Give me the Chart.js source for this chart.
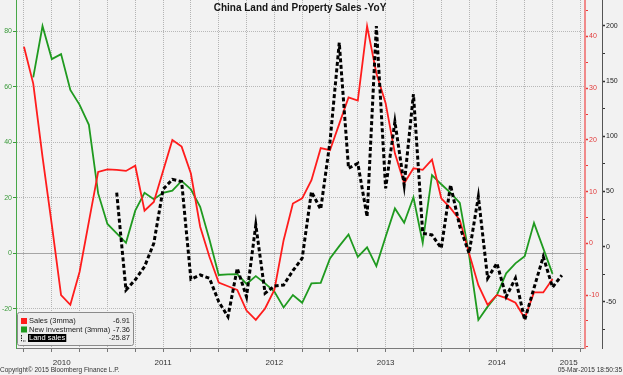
<!DOCTYPE html>
<html>
<head>
<meta charset="utf-8">
<script src="https://cdn.jsdelivr.net/npm/chart.js@4/dist/chart.umd.min.js"></script>
<style>
  html, body { margin: 0; padding: 0; background: #f2f2f2; }
  #wrap { position: relative; width: 623px; height: 375px; }
</style>
</head>
<body>
<div id="wrap"><canvas id="chart" width="623" height="375"></canvas></div>
<script>
/* China Land and Property Sales -YoY
   Months counted from Jan 2010 (= 0). Series start Apr 2010. */

const FIRST_MONTH = 3;

// Sales (3mma), % YoY, right red axis — Apr 2010 .. Jan 2015
const sales = [
  38.0, 30.9, 16.7, 3.6, -10.0, -11.9, -5.5, 4.2, 13.8,          // 2010 Apr-Dec
  14.3, 14.2, 14.0, 15.0, 6.3, 8.0, 14.0, 20.0, 18.7, 13.5, 3.2, -2.6,  // 2011
  -7.6, -8.3, -9.0, -13.0, -14.8, -12.6, -9.0, 0.6, 7.7, 8.7, 12.2, 18.4, // 2012
  18.0, 23.1, 28.2, 27.6, 42.0, 32.9, 27.1, 17.4, 11.6, 14.5, 14.2, 16.2, // 2013
  8.7, 6.8, 4.5, -1.9, -8.1, -11.9, -10.0, -10.6, -11.5, -14.5, -9.5, -9.5, // 2014
  -6.9, null                                                      // 2015
];

// New investment (3mma), % YoY, left green axis
const newInvestment = [
  null, 63.4, 81.9, 70.0, 71.8, 58.9, 53.5, 46.3, 21.6,
  10.6, 7.2, 3.8, 15.4, 21.8, 19.5, 21.8, 22.6, 26.1, 23.1, 16.8, 5.0,
  -7.8, -7.6, -7.5, -11.0, -8.2, -10.8, -13.8, -19.5, -15.0, -17.8, -10.8, -10.6,
  -1.8, 2.6, 6.8, -1.3, 2.2, -4.6, 6.0, 16.2, 11.0, 20.2, 3.8, 28.2,
  24.9, 21.8, 18.2, -0.6, -24.0, -19.2, -15.0, -7.2, -3.6, -1.0, 11.0, 1.8,
  -7.4, null
];

// Land sales, % YoY, right black axis
const landSales = [
  null, null, null, null, null, null, null, null, null,
  null, 48.9, -39.2, -30.0, -18.1, 3.0, 52.0, 61.0, 59.0, -29.5, -25.6, -28.6,
  -49.8, -63.4, -19.6, -45.3, 19.7, -42.2, -35.6, -34.7, -21.7, -10.5, 49.8, 33.9,
  95.1, 184.8, 71.0, 75.5, 27.2, 199.9, 52.9, 113.2, 55.9, 138.3, 12.1, 10.6,
  -1.4, 55.9, 18.1, -6.0, 45.3, -28.6, -15.0, -45.3, -28.6, -66.4, -37.4, -9.1,
  -36.8, -25.9
];

const investTicks = [-20, 0, 20, 40, 60, 80];
const salesTicks = [-10, 0, 10, 20, 30, 40];
const landTicks = [-50, 0, 50, 100, 150, 200];
const yearLabels = ['2010', '2011', '2012', '2013', '2014', '2015'];

const seriesNames = ['Sales (3mma)', 'New investment (3mma)', 'Land sales'];
const lastValues = ['-6.91', '-7.36', '-25.87'];

const TITLE = 'China Land and Property Sales -YoY';
const COPYRIGHT = 'Copyright\u00a9 2015 Bloomberg Finance L.P.';
const STAMP = '05-Mar-2015 18:50:35';

const FONT = '"Liberation Sans", Arial, sans-serif';
const RED = '#ff1c1c';
const GREEN = '#1f9a1f';

const toPoints = arr => arr.map((v, i) => ({ x: FIRST_MONTH + i, y: v }));

const zeroPad = s => { s.paddingTop = 0; s.paddingBottom = 0; s.paddingLeft = 0; s.paddingRight = 0; };
const dotted = ctx => (ctx.tick && ctx.tick.value === 0) ? [] : [1, 1];

// title, legend box and footer drawn over the chart
const overlay = {
  id: 'overlay',
  afterDraw(chart) {
    const ctx = chart.ctx;
    ctx.save();
    ctx.textBaseline = 'middle';

    ctx.font = 'bold 10px ' + FONT;
    ctx.fillStyle = '#151515';
    ctx.textAlign = 'center';
    ctx.fillText(TITLE, 300, 8);

    // legend
    const bx = 17, by = 312.5, bw = 116, bh = 33;
    ctx.fillStyle = 'rgba(236,236,236,0.95)';
    ctx.strokeStyle = '#8a8a8a';
    ctx.lineWidth = 1;
    ctx.beginPath();
    ctx.roundRect(bx + 0.5, by, bw, bh, 2);
    ctx.fill();
    ctx.stroke();

    const rows = [321, 329.5, 338];
    ctx.font = '7.5px ' + FONT;
    ctx.fillStyle = RED;
    ctx.fillRect(21, rows[0] - 3, 6, 6);
    ctx.fillStyle = GREEN;
    ctx.fillRect(21, rows[1] - 3, 6, 6);
    ctx.strokeStyle = '#222';
    ctx.setLineDash([1.5, 1]);
    ctx.beginPath();
    ctx.moveTo(21.5, rows[2] - 3);
    ctx.lineTo(21.5, rows[2] + 3);
    ctx.lineTo(26, rows[2] + 3);
    ctx.stroke();
    ctx.setLineDash([]);

    ctx.textAlign = 'left';
    ctx.fillStyle = '#222';
    ctx.fillText(seriesNames[0], 29, rows[0]);
    ctx.fillText(seriesNames[1], 29, rows[1]);
    const w = ctx.measureText(seriesNames[2]).width;
    ctx.fillStyle = '#000';
    ctx.fillRect(28, rows[2] - 4, w + 2, 8);
    ctx.fillStyle = '#fff';
    ctx.fillText(seriesNames[2], 29, rows[2]);

    ctx.textAlign = 'right';
    ctx.fillStyle = '#222';
    lastValues.forEach((v, i) => ctx.fillText(v, 130, rows[i]));

    // footer
    ctx.font = '6.5px ' + FONT;
    ctx.fillStyle = '#333';
    ctx.textAlign = 'left';
    ctx.fillText(COPYRIGHT, 0, 370);
    ctx.textAlign = 'right';
    ctx.fillText(STAMP, 622, 370);
    ctx.restore();
  }
};

const ctx = document.getElementById('chart').getContext('2d');

new Chart(ctx, {
  type: 'line',
  data: {
    datasets: [
      {
        label: seriesNames[2],
        data: toPoints(landSales),
        yAxisID: 'yLand',
        borderColor: '#000',
        borderWidth: 3,
        borderDash: [4, 2.5],
        pointRadius: 0,
        tension: 0,
        order: 0
      },
      {
        label: seriesNames[0],
        data: toPoints(sales),
        yAxisID: 'ySales',
        borderColor: RED,
        borderWidth: 1.8,
        pointRadius: 0,
        tension: 0,
        order: 1
      },
      {
        label: seriesNames[1],
        data: toPoints(newInvestment),
        yAxisID: 'y',
        borderColor: GREEN,
        borderWidth: 1.8,
        pointRadius: 0,
        tension: 0,
        order: 2
      }
    ]
  },
  options: {
    responsive: false,
    animation: false,
    devicePixelRatio: 1,
    layout: { padding: 0 },
    plugins: {
      legend: { display: false },
      title: { display: false },
      tooltip: { enabled: false }
    },
    scales: {
      x: {
        type: 'linear',
        position: 'bottom',
        weight: 0,
        min: 2.14,
        max: 63.5,
        afterBuildTicks: s => {
          const t = [];
          for (let m = Math.ceil(s.min / 3) * 3; m <= s.max; m += 3) t.push({ value: m });
          s.ticks = t;
        },
        afterFit: s => { s.height = 5; zeroPad(s); },
        ticks: { display: false },
        grid: { color: '#b4b4b4', tickColor: '#777', tickLength: 4 },
        border: { color: '#7a7a7a', width: 1, dash: [1, 1] }
      },
      xYear: {
        type: 'linear',
        position: 'bottom',
        weight: 1,
        min: 2.14,
        max: 63.5,
        afterBuildTicks: s => {
          s.ticks = yearLabels.map((y, i) => {
            const a = Math.max(i * 12, s.min);
            const b = Math.min(i * 12 + 12, s.max);
            return { value: (a + b) / 2 };
          });
        },
        afterFit: s => { s.height = 22; zeroPad(s); },
        grid: { display: false, drawTicks: false },
        border: { display: false },
        ticks: {
          autoSkip: false,
          maxRotation: 0,
          padding: 5,
          color: '#333',
          font: { family: FONT, size: 8 },
          callback: (v, i) => yearLabels[i]
        }
      },
      y: {
        position: 'left',
        min: -34.1,
        max: 91.3,
        afterBuildTicks: s => { s.ticks = investTicks.map(v => ({ value: v })); },
        afterFit: s => { s.width = 16; zeroPad(s); },
        grid: {
          color: c => (c.tick && c.tick.value === 0) ? '#a6a6a6' : '#b8b8b8',
          tickColor: '#3a9a3a',
          tickLength: 3
        },
        border: { color: '#48a848', width: 1, dash: dotted },
        ticks: { color: '#3a9a3a', padding: 1, font: { family: FONT, size: 7 } }
      },
      ySales: {
        position: 'right',
        weight: 0,
        min: -20.25,
        max: 47.06,
        afterBuildTicks: s => {
          const t = [];
          for (let v = -20; v <= 45; v += 5) t.push({ value: v });
          s.ticks = t;
        },
        afterFit: s => { s.width = 17; zeroPad(s); },
        grid: {
          drawOnChartArea: false,
          tickColor: '#e83a3a',
          tickLength: 3,
          tickWidth: c => (c.tick && salesTicks.includes(c.tick.value)) ? 1.5 : 1
        },
        border: { color: '#f08a8a', width: 2 },
        ticks: {
          color: '#e23a3a',
          padding: 1,
          font: { family: FONT, size: 7 },
          callback: v => salesTicks.includes(v) ? String(v) : ''
        }
      },
      yLand: {
        position: 'right',
        weight: 1,
        min: -91.8,
        max: 223.5,
        afterBuildTicks: s => {
          const t = [];
          for (let v = -75; v <= 200; v += 25) t.push({ value: v });
          s.ticks = t;
        },
        afterFit: s => { s.width = 21; zeroPad(s); },
        grid: {
          drawOnChartArea: false,
          tickColor: '#333',
          tickLength: 3,
          tickWidth: c => (c.tick && landTicks.includes(c.tick.value)) ? 1.5 : 1
        },
        border: { color: '#555', width: 1 },
        ticks: {
          color: '#222',
          padding: 1,
          font: { family: FONT, size: 7 },
          callback: v => landTicks.includes(v) ? String(v) : ''
        }
      }
    }
  },
  plugins: [overlay]
});
</script>
</body>
</html>
